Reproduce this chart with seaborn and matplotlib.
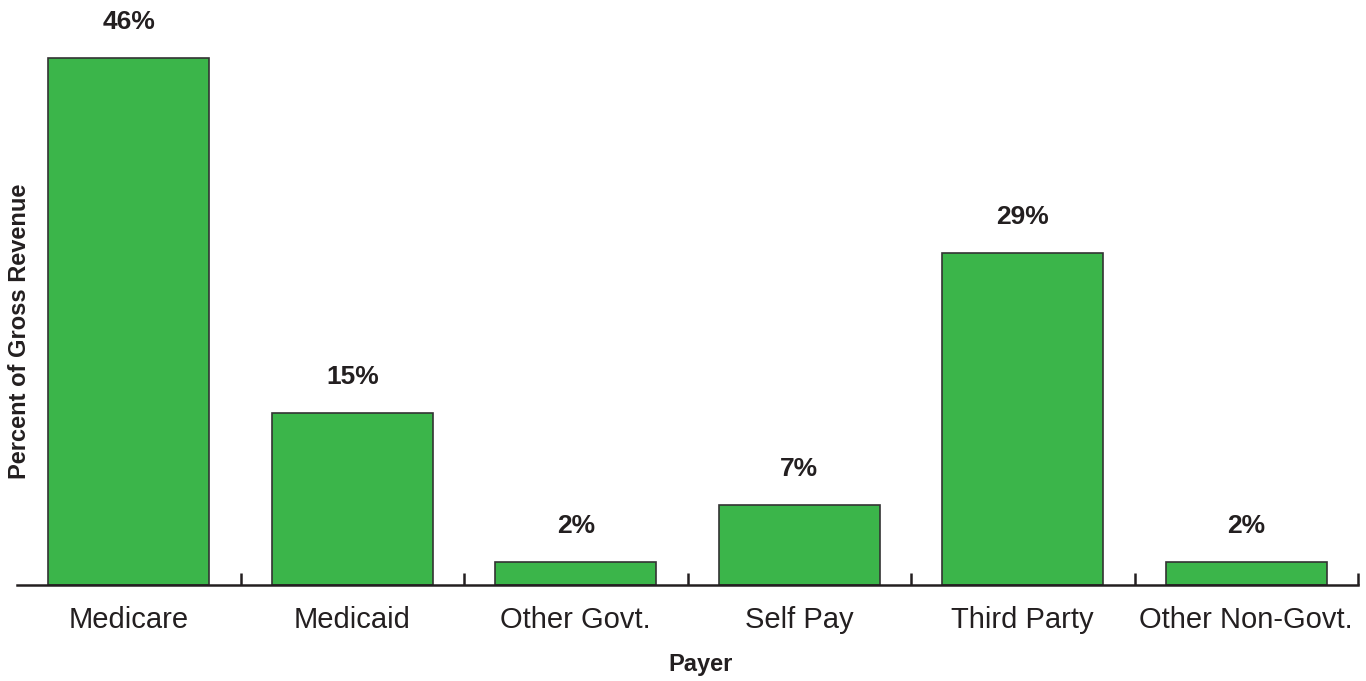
import matplotlib
matplotlib.use("Agg")
import matplotlib.pyplot as plt
import seaborn as sns
import pandas as pd

payers = ["Medicare", "Medicaid", "Other Govt.", "Self Pay", "Third Party", "Other Non-Govt."]
percents = [46, 15, 2, 7, 29, 2]

GREEN = "#3BB54A"
DARK = "#231F20"

sns.set_style("white")
plt.rcParams["font.family"] = ["Liberation Sans", "DejaVu Sans"]

df = pd.DataFrame({"Payer": payers, "Percent": percents})

fig = plt.figure(figsize=(13.66, 6.81), dpi=100)
ax = fig.add_axes([17 / 1366, 96 / 681, 1341 / 1366, 585 / 681])

sns.barplot(data=df, x="Payer", y="Percent", color=GREEN, width=0.72,
            edgecolor="#333333", linewidth=1.2, saturation=1, ax=ax)

for i, v in enumerate(percents):
    ax.annotate(f"{v}%", (i, v), xytext=(0, 26), textcoords="offset points",
                ha="center", va="center", fontsize=19, fontweight="bold", color=DARK)

ax.set_xlim(-0.5, 5.5)
ax.set_ylim(0, 51.05)
ax.set_yticks([])
for s in ["left", "right", "top"]:
    ax.spines[s].set_visible(False)
ax.spines["bottom"].set_linewidth(1.8)
ax.spines["bottom"].set_color(DARK)

ax.set_xticks(range(len(payers)))
ax.set_xticklabels(payers, fontsize=21, color=DARK)
ax.tick_params(axis="x", which="major", bottom=True, length=0, pad=15)
ax.set_xticks([i + 0.5 for i in range(len(payers))], minor=True)
ax.tick_params(axis="x", which="minor", bottom=True, direction="in",
               length=9, width=1.8, color=DARK)

ax.set_xlabel("Payer", fontsize=17, fontweight="bold", color=DARK)
ax.xaxis.set_label_coords((701 - 17) / 1341, -(664 - 585) / 585)
ax.xaxis.label.set_va("center")
ax.set_ylabel("Percent of Gross Revenue", fontsize=17, fontweight="bold", color=DARK)
ax.yaxis.set_label_coords((31 - 17) / 1341, (585 - 331) / 585)

fig.savefig("out.png", dpi=100)
